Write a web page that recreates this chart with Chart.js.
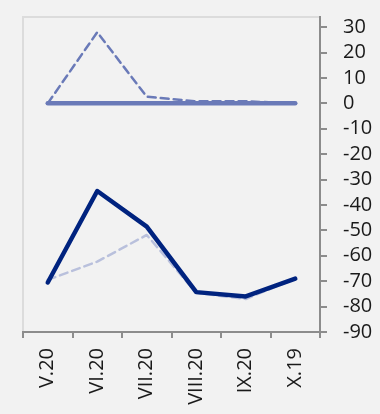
<!DOCTYPE html>
<html>
<head>
<meta charset="utf-8">
<script src="https://cdn.jsdelivr.net/npm/chart.js@4/dist/chart.umd.min.js"></script>
<style>
	html, body { margin: 0; padding: 0; background: #f2f2f2; }
	canvas { display: block; }
</style>
</head>
<body>
<canvas id="chart" width="380" height="414"></canvas>
<script>
const months = ["V.20", "VI.20", "VII.20", "VIII.20", "IX.20", "X.19"];
const upperDashed = [0, 28, 2.6, 0.8, 0.8, 0];
const upperFlat = [0, 0, 0, 0, 0, 0];
const lowerSolid = [-70.5, -34.5, -48.5, -74.3, -76, -69];
const lowerDashed = [-69.5, -62.3, -51.8, -74.6, -77, -69];
const yTicks = [30, 20, 10, 0, -10, -20, -30, -40, -50, -60, -70, -80, -90];

const axisGray = "#8c8c8c";
const font = { family: "Open Sans", size: 20 };

const frame = {
	id: "frame",
	beforeDraw(chart) {
		const { ctx, chartArea: a } = chart;
		ctx.save();
		ctx.fillStyle = "#f2f2f2";
		ctx.fillRect(0, 0, chart.width, chart.height);
		ctx.strokeStyle = "#dcdcdc";
		ctx.lineWidth = 2;
		ctx.strokeRect(a.left, a.top, a.right - a.left, a.bottom - a.top);
		ctx.restore();
	},
};

const data = {
	labels: months,
	datasets: [
		{
			data: lowerSolid,
			borderColor: "#00237f",
			borderWidth: 4.5,
		},
		{
			data: upperFlat,
			borderColor: "#6a7ab8",
			borderWidth: 4.5,
		},
		{
			data: lowerDashed,
			borderColor: "#b9c0dc",
			borderWidth: 2.5,
			borderDash: [8, 5],
		},
		{
			data: upperDashed,
			borderColor: "#6a7ab8",
			borderWidth: 2.5,
			borderDash: [8, 5],
		},
	],
};

const options = {
	responsive: false,
	animation: false,
	plugins: {
		legend: { display: false },
		tooltip: { enabled: false },
	},
	elements: {
		point: { radius: 0 },
		line: { borderCapStyle: "round", borderJoinStyle: "round", tension: 0 },
	},
	layout: { padding: { left: 23, top: 17, right: 0, bottom: 0 } },
	scales: {
		x: {
			offset: true,
			grid: {
				offset: true,
				drawOnChartArea: false,
				color: axisGray,
				lineWidth: 2,
				tickLength: 6,
			},
			border: { color: axisGray, width: 2 },
			ticks: {
				autoSkip: false,
				minRotation: 90,
				maxRotation: 90,
				padding: 10,
				color: "#1a1a1a",
				font,
			},
			afterFit(scale) {
				scale.height = 82;
				scale.paddingLeft = 0;
				scale.paddingRight = 0;
			},
		},
		y: {
			position: "right",
			min: -90,
			max: 34,
			grid: {
				drawOnChartArea: false,
				color: axisGray,
				lineWidth: 2,
				tickLength: 7,
			},
			border: { color: axisGray, width: 2 },
			ticks: {
				autoSkip: false,
				padding: 16,
				color: "#1a1a1a",
				font,
			},
			afterBuildTicks(scale) {
				scale.ticks = yTicks.map((value) => ({ value }));
			},
			afterFit(scale) {
				scale.width = 60;
				scale.paddingTop = 0;
				scale.paddingBottom = 0;
			},
		},
	},
};

new Chart(document.querySelector("#chart"), {
	type: "line",
	data,
	options,
	plugins: [frame],
});
</script>
</body>
</html>
